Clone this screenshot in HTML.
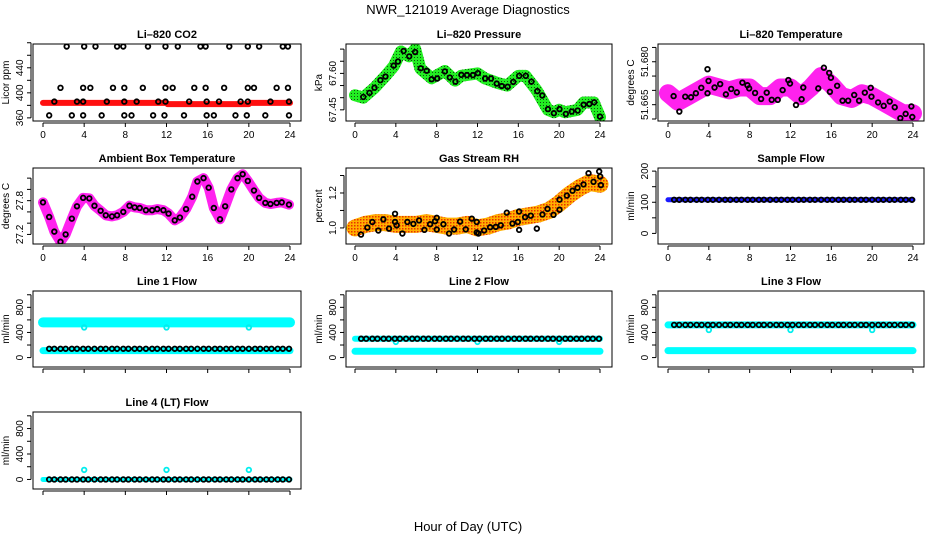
<!DOCTYPE html>
<html><head><meta charset="utf-8">
<style>
html,body{margin:0;padding:0;background:#fff;}
svg{display:block;font-family:"Liberation Sans",sans-serif;}
</style></head>
<body>
<svg id="chart" width="936" height="540" viewBox="0 0 936 540">
<text x="468" y="14" text-anchor="middle" font-size="13">NWR_121019  Average Diagnostics</text>
<text x="468" y="531" text-anchor="middle" font-size="13">Hour of Day (UTC)</text>
</svg>
<script>
// ---------- data ----------
const xTicks = [0,4,8,12,16,20,24];
const meanHours = [0.6,1.1,1.7,2.2,2.8,3.3,3.9,4.4,5.0,5.6,6.1,6.7,7.2,7.8,8.3,8.9,9.4,10.0,10.6,11.1,11.7,12.2,12.8,13.3,13.9,14.4,15.0,15.6,16.1,16.7,17.2,17.8,18.3,18.9,19.4,20.0,20.6,21.1,21.7,22.2,22.8,23.3,23.9];

// CO2
const co2Hours = [2.3,4.0,5.1,7.2,7.8,10.2,11.9,13.1,15.3,15.8,18.1,19.9,21.0,23.3,23.8,
 1.7,3.9,4.6,6.8,7.9,9.7,11.9,12.6,14.7,15.8,17.6,19.9,20.5,22.7,23.8,
 1.1,3.3,3.9,6.2,7.9,9.1,11.2,11.9,14.2,15.9,17.1,19.2,19.9,22.1,23.9,
 0.6,2.8,3.9,5.7,7.9,8.6,10.7,11.8,13.7,15.9,16.6,18.7,19.8,21.6,23.9];
const co2Vals = [474,474,474,474,474,474,474,474,474,474,474,474,474,474,474,
 408,408,408,408,408,408,408,408,408,408,408,408,408,408,408,
 386,386,386,386,386,386,386,386,386,386,386,386,386,386,386,
 364,364,364,364,364,364,364,364,364,364,364,364,364,364,364];
const co2RawHours = [0,4,8,12,12.1,16,20,20.1,24];
const co2RawVals = [384,384,384,384,382,382,382,384,384];

// Pressure
const presHours = [0.81,1.42,1.91,2.49,2.98,3.79,4.21,4.76,5.31,5.89,6.44,7.02,7.51,8.06,8.80,9.29,9.84,10.42,10.97,11.55,12.04,12.75,13.33,13.88,14.37,14.95,15.50,16.08,16.73,17.28,17.86,18.35,18.90,19.48,20.03,20.65,21.23,21.81,22.39,22.95,23.43,24.0];
const presVals = [67.503,67.520,67.541,67.572,67.587,67.632,67.649,67.692,67.670,67.688,67.621,67.611,67.576,67.579,67.608,67.583,67.566,67.594,67.593,67.593,67.601,67.579,67.579,67.558,67.548,67.545,67.565,67.590,67.590,67.566,67.527,67.509,67.453,67.436,67.453,67.433,67.443,67.447,67.471,67.474,67.481,67.422];
const presRawHours = [0,0.8,1.9,3.0,3.8,4.5,5.3,5.9,6.4,7.5,8.8,9.8,10.4,12.0,12.7,14.0,14.9,16.0,16.7,17.8,18.9,19.5,20.0,20.6,21.8,22.4,23.4,24.0];
const presRawVals = [67.51,67.50,67.54,67.59,67.63,67.69,67.67,67.70,67.62,67.58,67.61,67.57,67.59,67.60,67.58,67.56,67.55,67.59,67.59,67.53,67.45,67.44,67.45,67.44,67.45,67.48,67.48,67.42];

// Li-820 temperature
const tempHours = [0.55,1.11,1.69,2.25,2.73,3.26,3.87,3.87,3.97,4.56,5.11,5.67,6.19,6.74,7.29,7.78,7.95,8.53,9.12,9.67,10.16,10.75,11.23,11.79,11.95,12.54,13.09,13.25,14.72,15.27,15.79,15.96,15.86,16.57,17.10,17.65,18.24,18.72,19.28,19.86,19.93,20.58,21.13,21.72,22.21,22.76,23.28,23.84,23.93];
const tempVals = [51.668,51.6626,51.6678,51.6676,51.669,51.6709,51.669,51.6774,51.6733,51.671,51.6722,51.6686,51.6705,51.6693,51.6727,51.6718,51.6707,51.6691,51.667,51.6692,51.6667,51.6667,51.6701,51.6736,51.6724,51.6649,51.6669,51.671,51.6707,51.6779,51.6761,51.6744,51.6695,51.6716,51.6664,51.6664,51.6684,51.6664,51.6692,51.6709,51.6678,51.6658,51.6646,51.6661,51.6641,51.6603,51.6618,51.6644,51.6607];
const tempRawHours = [0,1,2,3,4,5,6,7,8,9,10,11,12,13,14,15,16,17,18,19,20,21,22,23,24];
const tempRawVals = [51.669,51.666,51.668,51.670,51.672,51.671,51.670,51.671,51.671,51.668,51.668,51.671,51.671,51.668,51.671,51.675,51.672,51.668,51.667,51.669,51.668,51.666,51.664,51.662,51.662];

// Ambient box temperature
const ambHours = [0,0.6,1.1,1.7,2.2,2.8,3.3,3.9,4.5,5.0,5.6,6.1,6.7,7.2,7.8,8.4,8.9,9.4,10.0,10.6,11.1,11.7,12.2,12.8,13.3,13.9,14.5,15.0,15.6,16.1,16.6,17.2,17.7,18.3,18.9,19.4,19.9,20.5,21.0,21.6,22.1,22.7,23.2,23.9];
const ambVals = [27.77,27.51,27.25,27.07,27.2,27.48,27.70,27.85,27.84,27.71,27.62,27.54,27.52,27.54,27.60,27.71,27.68,27.67,27.63,27.63,27.65,27.63,27.57,27.45,27.50,27.65,27.87,28.14,28.20,28.03,27.67,27.47,27.70,28.0,28.2,28.27,28.15,27.98,27.85,27.76,27.74,27.76,27.77,27.73];

// Gas stream RH
const rhVals = [0.962,1.002,1.034,0.985,1.049,0.996,1.034,1.081,1.015,0.968,1.034,1.023,1.043,0.989,1.021,1.038,1.058,0.991,1.021,0.968,0.991,1.036,0.992,1.053,1.034,0.974,0.968,0.985,1.004,1.006,1.015,1.087,1.025,1.034,0.989,1.094,1.062,1.070,0.996,1.077,1.109,1.075,1.104,1.162,1.185,1.213,1.230,1.249,1.313,1.264,1.323,1.294,1.245];
const rhX = [153,172,187,205,220,237,255,255,260,277,292,310,327,343,360,375,380,380,400,417,432,450,467,485,500,500,505,522,540,557,572,590,607,623,627,627,645,662,680,697,712,730,748,748,770,787,802,820,835,850,867,870,872];
const rhRawHours = [0,1,2,3,4,5,6,7,8,9,10,11,12,13,14,15,16,17,18,19,20,21,22,23,24];
const rhRawVals = [1.0,1.02,1.03,1.03,1.02,1.02,1.02,1.03,1.02,1.01,1.01,1.02,1.0,1.01,1.03,1.04,1.06,1.07,1.08,1.10,1.14,1.19,1.23,1.26,1.25];

// Flows
const sampleFlow = 108;
const line1Upper = 560, line1Lower = 110, line1Mean = 140;
const line2Upper = 300, line2Lower = 100, line2Mean = 300;
const line3Upper = 520, line3Lower = 110, line3Mean = 520;
const line4Raw = 0, line4Mean = 0;
const spikeHours = [4,12,20];
const line1Spike = 480, line2Spike = 250, line3Spike = 440, line4Spike = 150;

// ---------- drawing helpers ----------
const NS = "http://www.w3.org/2000/svg";
const svg = document.getElementById('chart');
function el(tag, attrs, parent){
  const e = document.createElementNS(NS, tag);
  for (const k in attrs) e.setAttribute(k, attrs[k]);
  (parent||svg).appendChild(e);
  return e;
}
const cols = [{l:33,r:301,x0:43,x24:290},{l:346,r:612,x0:355,x24:600},{l:658,r:924,x0:668,x24:913}];
const rows = [{t:44,b:121},{t:168,b:244},{t:291,b:367},{t:412,b:489}];

function panel(name, title, c, r, ymin, ymax, yticks, ylabels, ytitle, showXLabels){
  const C = cols[c], R = rows[r];
  const g = el('g', {});
  
  
  const sx = h => C.x0 + (C.x24 - C.x0) * h / 24;
  const sy = v => R.b - (v - ymin) / (ymax - ymin) * (R.b - R.t);
  const plot = el('g', {}, g);
  
  
  const frame = el('rect', {x:C.l, y:R.t, width:C.r-C.l, height:R.b-R.t, fill:'none', stroke:'#000', 'stroke-width':1}, g);
  
  
  const t = el('text', {x:(C.l+C.r)/2, y:R.t-6, 'text-anchor':'middle', 'font-size':11, 'font-weight':'bold'}, g);
  t.textContent = title;
  
  
  const xa = el('g', {}, g);
  
  
  el('line', {x1:sx(0), x2:sx(24), y1:R.b+2, y2:R.b+2, stroke:'#000'}, xa);
  xTicks.forEach(v => {
    el('line', {x1:sx(v), x2:sx(v), y1:R.b+2, y2:R.b+6, stroke:'#000'}, xa);
    if (showXLabels){
      const tl = el('text', {x:sx(v), y:R.b+17, 'text-anchor':'middle', 'font-size':10}, xa);
      tl.textContent = v;
      
      
    }
  });
  const ya = el('g', {}, g);
  
  
  el('line', {x1:C.l-2, x2:C.l-2, y1:sy(yticks[0]), y2:sy(yticks[yticks.length-1]), stroke:'#000'}, ya);
  yticks.forEach((v,i) => {
    el('line', {x1:C.l-6, x2:C.l-2, y1:sy(v), y2:sy(v), stroke:'#000'}, ya);
    if (ylabels[i] !== ''){
      const tl = el('text', {x:0, y:0, 'text-anchor':'middle', 'font-size':10, transform:`translate(${C.l-10},${sy(v)}) rotate(-90)`}, ya);
      tl.textContent = ylabels[i];
      
      
    }
  });
  const yt = el('text', {x:0, y:0, 'text-anchor':'middle', 'font-size':10, transform:`translate(${C.l-24},${(R.t+R.b)/2}) rotate(-90)`}, g);
  yt.textContent = ytitle;
  
  
  const clip = 'clip-' + name;
  const cp = el('clipPath', {id:clip}, g);
  el('rect', {x:C.l, y:R.t, width:C.r-C.l, height:R.b-R.t}, cp);
  plot.setAttribute('clip-path', `url(#${clip})`);
  return {sx, sy, plot};
}
function band(p, hours, vals, color, w, name){
  const pts = hours.map((h,i)=>p.sx(h)+','+p.sy(vals[i])).join(' ');
  const pl = el('polyline', {points:pts, fill:'none', stroke:color, 'stroke-width':w, 'stroke-linejoin':'round', 'stroke-linecap':'round'}, p.plot);
  
  
  return pl;
}
function circles(p, hours, vals, color, name, r){
  hours.forEach((h,i) => {
    const c = el('circle', {cx:p.sx(h), cy:p.sy(vals[i]), r:r||2.3, fill:'none', stroke:color, 'stroke-width':1.8}, p.plot);
    
    
  });
}
const defs = el('defs', {});
const pat = el('pattern', {id:'rhpat', width:3, height:3, patternUnits:'userSpaceOnUse'}, defs);
el('rect', {width:3, height:3, fill:'#ffb000'}, pat);
el('rect', {width:1.5, height:1.5, fill:'#e83000'}, pat);
const gpat = el('pattern', {id:'grpat', width:3, height:3, patternUnits:'userSpaceOnUse'}, defs);
el('rect', {width:3, height:3, fill:'#22ee22'}, gpat);
el('rect', {width:1, height:1, fill:'#105010'}, gpat);

// ---------- panels ----------
let p;
p = panel('co2-panel','Li\u2013820 CO2',0,0,355,478,[360,380,400,420,440,460,480],['360','','400','','440','',''],'Licor ppm',true);
band(p, co2RawHours, co2RawVals, '#ff1010', 6, 'co2-raw-series');
circles(p, co2Hours, co2Vals, '#000', 'co2-mean-point');

p = panel('pressure-panel','Li\u2013820 Pressure',1,0,67.404,67.721,[67.45,67.50,67.55,67.60,67.65,67.70],['67.45','','','67.60','',''],'kPa',true);
band(p, presRawHours, presRawVals, 'url(#grpat)', 12, 'pressure-raw-series');
circles(p, presHours, presVals, '#000', 'pressure-mean-point');

p = panel('temperature-panel','Li\u2013820 Temperature',2,0,51.6593,51.6862,[51.660,51.665,51.670,51.675,51.680,51.685],['','51.665','','','51.680',''],'degrees C',true);
band(p, tempRawHours, tempRawVals, '#ff22ee', 18, 'temperature-raw-series');
circles(p, tempHours, tempVals, '#000', 'temperature-mean-point');

p = panel('ambient-panel','Ambient Box Temperature',0,1,27.03,28.38,[27.2,27.4,27.6,27.8,28.0,28.2],['27.2','','','27.8','',''],'degrees C',true);
band(p, ambHours, ambVals, '#ff22ee', 10, 'ambient-raw-series');
circles(p, ambHours, ambVals, '#000', 'ambient-mean-point');

p = panel('rh-panel','Gas Stream RH',1,1,0.908,1.343,[1.0,1.1,1.2,1.3],['1.0','','1.2',''],'percent',true);
band(p, rhRawHours, rhRawVals, 'url(#rhpat)', 17, 'rh-raw-series');
circles(p, rhX.map(x=>(x-135)/30.6), rhVals, '#000', 'rh-mean-point');

const flatHours = [0,24];
p = panel('sample-flow-panel','Sample Flow',2,1,-34,210,[0,50,100,150,200],['0','','100','','200'],'ml/min',true);
band(p, flatHours, [sampleFlow,sampleFlow], '#1a1aff', 5, 'sample-flow-raw');
circles(p, meanHours, meanHours.map(()=>sampleFlow), '#000', 'sample-flow-mean-point');

const flowTicks = [0,200,400,600,800,1000], flowLabels = ['0','','400','','800',''];
function flowPanel(name,title,c,r,up,lo,mean,spike,wUp){
  const q = panel(name,title,c,r,-150,1060,flowTicks,flowLabels,'ml/min',false);
  band(q, flatHours, [up,up], '#00ffff', wUp, name+'-upper-raw');
  band(q, flatHours, [lo,lo], '#00ffff', 7, name+'-lower-raw');
  circles(q, spikeHours, spikeHours.map(()=>spike), '#00eeee', name+'-spike');
  circles(q, meanHours, meanHours.map(()=>mean), '#000', name+'-mean-point');
}
flowPanel('line1-flow-panel','Line 1 Flow',0,2,line1Upper,line1Lower,line1Mean,line1Spike,10);
flowPanel('line2-flow-panel','Line 2 Flow',1,2,line2Upper,line2Lower,line2Mean,line2Spike,6);
flowPanel('line3-flow-panel','Line 3 Flow',2,2,line3Upper,line3Lower,line3Mean,line3Spike,7);
p = panel('line4-flow-panel','Line 4 (LT) Flow',0,3,-150,1060,flowTicks,flowLabels,'ml/min',false);
band(p, flatHours, [line4Raw,line4Raw], '#00ffff', 5, 'line4-raw');
circles(p, spikeHours, spikeHours.map(()=>line4Spike), '#00eeee', 'line4-spike');
circles(p, meanHours, meanHours.map(()=>line4Mean), '#000', 'line4-mean-point');
</script>
</body></html>
